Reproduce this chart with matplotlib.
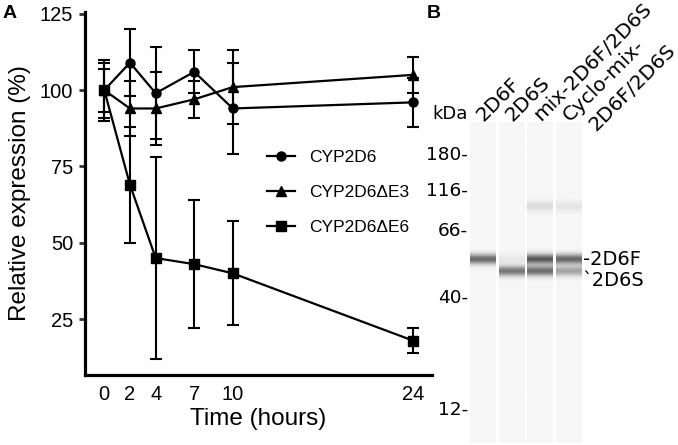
import numpy as np
import matplotlib.pyplot as plt

# panel A data
hours = [0, 2, 4, 7, 10, 24]
wt_mean = [100, 109, 99, 106, 94, 96]
wt_err = [10, 11, 15, 7, 15, 8]
e3_mean = [100, 94, 94, 97, 101, 105]
e3_err = [9, 9, 12, 6, 12, 6]
e6_mean = [100, 69, 45, 43, 40, 18]
e6_err = [7, 19, 33, 21, 17, 4]

# panel B data (relative migration, 0 = top of capillary)
lane_labels = ['2D6F', '2D6S', 'mix-2D6F/2D6S', 'Cyclo-mix-\n2D6F/2D6S']
ladder_kda = ['180', '116', '66', '40', '12']
ladder_pos = [0.097, 0.209, 0.333, 0.542, 0.891]
band_f_pos = 0.427
band_s_pos = 0.464
band_hi_pos = 0.262
band_f = [0.55, 0.06, 0.62, 0.56]
band_s = [0.0, 0.50, 0.54, 0.32]
band_hi = [0.0, 0.0, 0.10, 0.07]
lane_bg = 0.035

W, H = 678, 445
fig = plt.figure(figsize=(W / 100, H / 100), dpi=100)

# ---------------- panel A
arial = 'Liberation Sans'
ax = fig.add_axes([85 / W, 1 - 375 / H, (432 - 85) / W, (375 - 11.7) / H])
series = [(wt_mean, wt_err, 'o', 'CYP2D6'),
          (e3_mean, e3_err, '^', 'CYP2D6ΔE3'),
          (e6_mean, e6_err, 's', 'CYP2D6ΔE6')]
handles = []
for mean, err, mk, lab in series:
    ax.errorbar(hours, mean, yerr=err, fmt='none', ecolor='black',
                elinewidth=1.5, capsize=4, capthick=1.5)
    h, = ax.plot(hours, mean, '-', marker=mk, color='black', lw=1.6,
                 ms=6.5 if mk != '^' else 7, label=lab)
    handles.append(h)

ax.set_xlim(-1.5, 25.5)
ax.set_ylim(6.7, 125.7)
ax.set_xticks(hours)
ax.set_yticks([25, 50, 75, 100, 125])
for s in ['top', 'right']:
    ax.spines[s].set_visible(False)
for s in ['left', 'bottom']:
    ax.spines[s].set_linewidth(2.3)
ax.tick_params(axis='x', length=0, pad=7, labelsize=14.5)
ax.tick_params(axis='y', length=4.5, width=2, color='#333333', pad=4,
               labelsize=14.5)
for t in ax.get_xticklabels() + ax.get_yticklabels():
    t.set_fontfamily(arial)
ax.set_xlabel('Time (hours)', fontsize=17.5, family=arial, labelpad=3)
ax.set_ylabel('Relative expression (%)', fontsize=17.5, family=arial,
              labelpad=6)
ax.legend(handles=handles, loc='upper left',
          bbox_to_anchor=(267 / W, 1 - 150 / H),
          bbox_transform=fig.transFigure, frameon=False, borderpad=0,
          borderaxespad=0, handlelength=1.6, handletextpad=0.85,
          labelspacing=1.15, numpoints=1,
          prop={'family': arial, 'size': 12.5})

fig.text(3 / W, 1 - 5 / H, 'A', fontsize=14, fontweight='bold',
         family=arial, va='top', ha='left')
fig.text(427 / W, 1 - 5 / H, 'B', fontsize=14, fontweight='bold',
         family=arial, va='top', ha='left')

# ---------------- panel B
gx = fig.add_axes([470 / W, 1 - 443 / H, (582 - 470) / W, (443 - 122) / H])
y = np.linspace(0, 1, 700)
sig = 0.0109
for i in range(len(lane_labels)):
    prof = (lane_bg
            + band_f[i] * np.exp(-0.5 * ((y - band_f_pos) / sig) ** 2)
            + band_s[i] * np.exp(-0.5 * ((y - band_s_pos) / sig) ** 2)
            + band_hi[i] * np.exp(-0.5 * ((y - band_hi_pos) / sig) ** 2))
    gx.imshow(prof[:, None], cmap='gray_r', vmin=0, vmax=1, aspect='auto',
              extent=(i, i + 0.9, 1, 0), interpolation='bilinear')
    lines = lane_labels[i].split('\n')
    for k, line in enumerate(lines):
        gx.annotate(line, xy=(i, 0), xycoords='data',
                    xytext=(9.9 + k * 18.5, 0 - k * 6.6),
                    textcoords='offset points', rotation=45,
                    rotation_mode='anchor', ha='left', va='baseline',
                    fontsize=14.5, family='DejaVu Sans')

gx.set_xlim(0, 3.9)
gx.set_ylim(1, 0)
gx.set_xticks([])
gx.set_yticks(ladder_pos, [k + '-' for k in ladder_kda])
gx.tick_params(axis='y', length=0, pad=1.5, labelsize=13.3)
for s in gx.spines.values():
    s.set_visible(False)
gx.annotate('kDa', xy=(0, 0), xycoords='data', xytext=(-1.5, 2.2),
            textcoords='offset points', ha='right', va='baseline',
            fontsize=13, family='DejaVu Sans')
gx.annotate('-2D6F', xy=(3.9, band_f_pos), xycoords='data',
            xytext=(0.5, 0), textcoords='offset points', ha='left',
            va='center', fontsize=14, family='DejaVu Sans')
gx.annotate('`2D6S', xy=(3.9, band_s_pos), xycoords='data',
            xytext=(0.5, -7), textcoords='offset points', ha='left',
            va='center', fontsize=14, family='DejaVu Sans')

fig.savefig('out.png', dpi=100)
